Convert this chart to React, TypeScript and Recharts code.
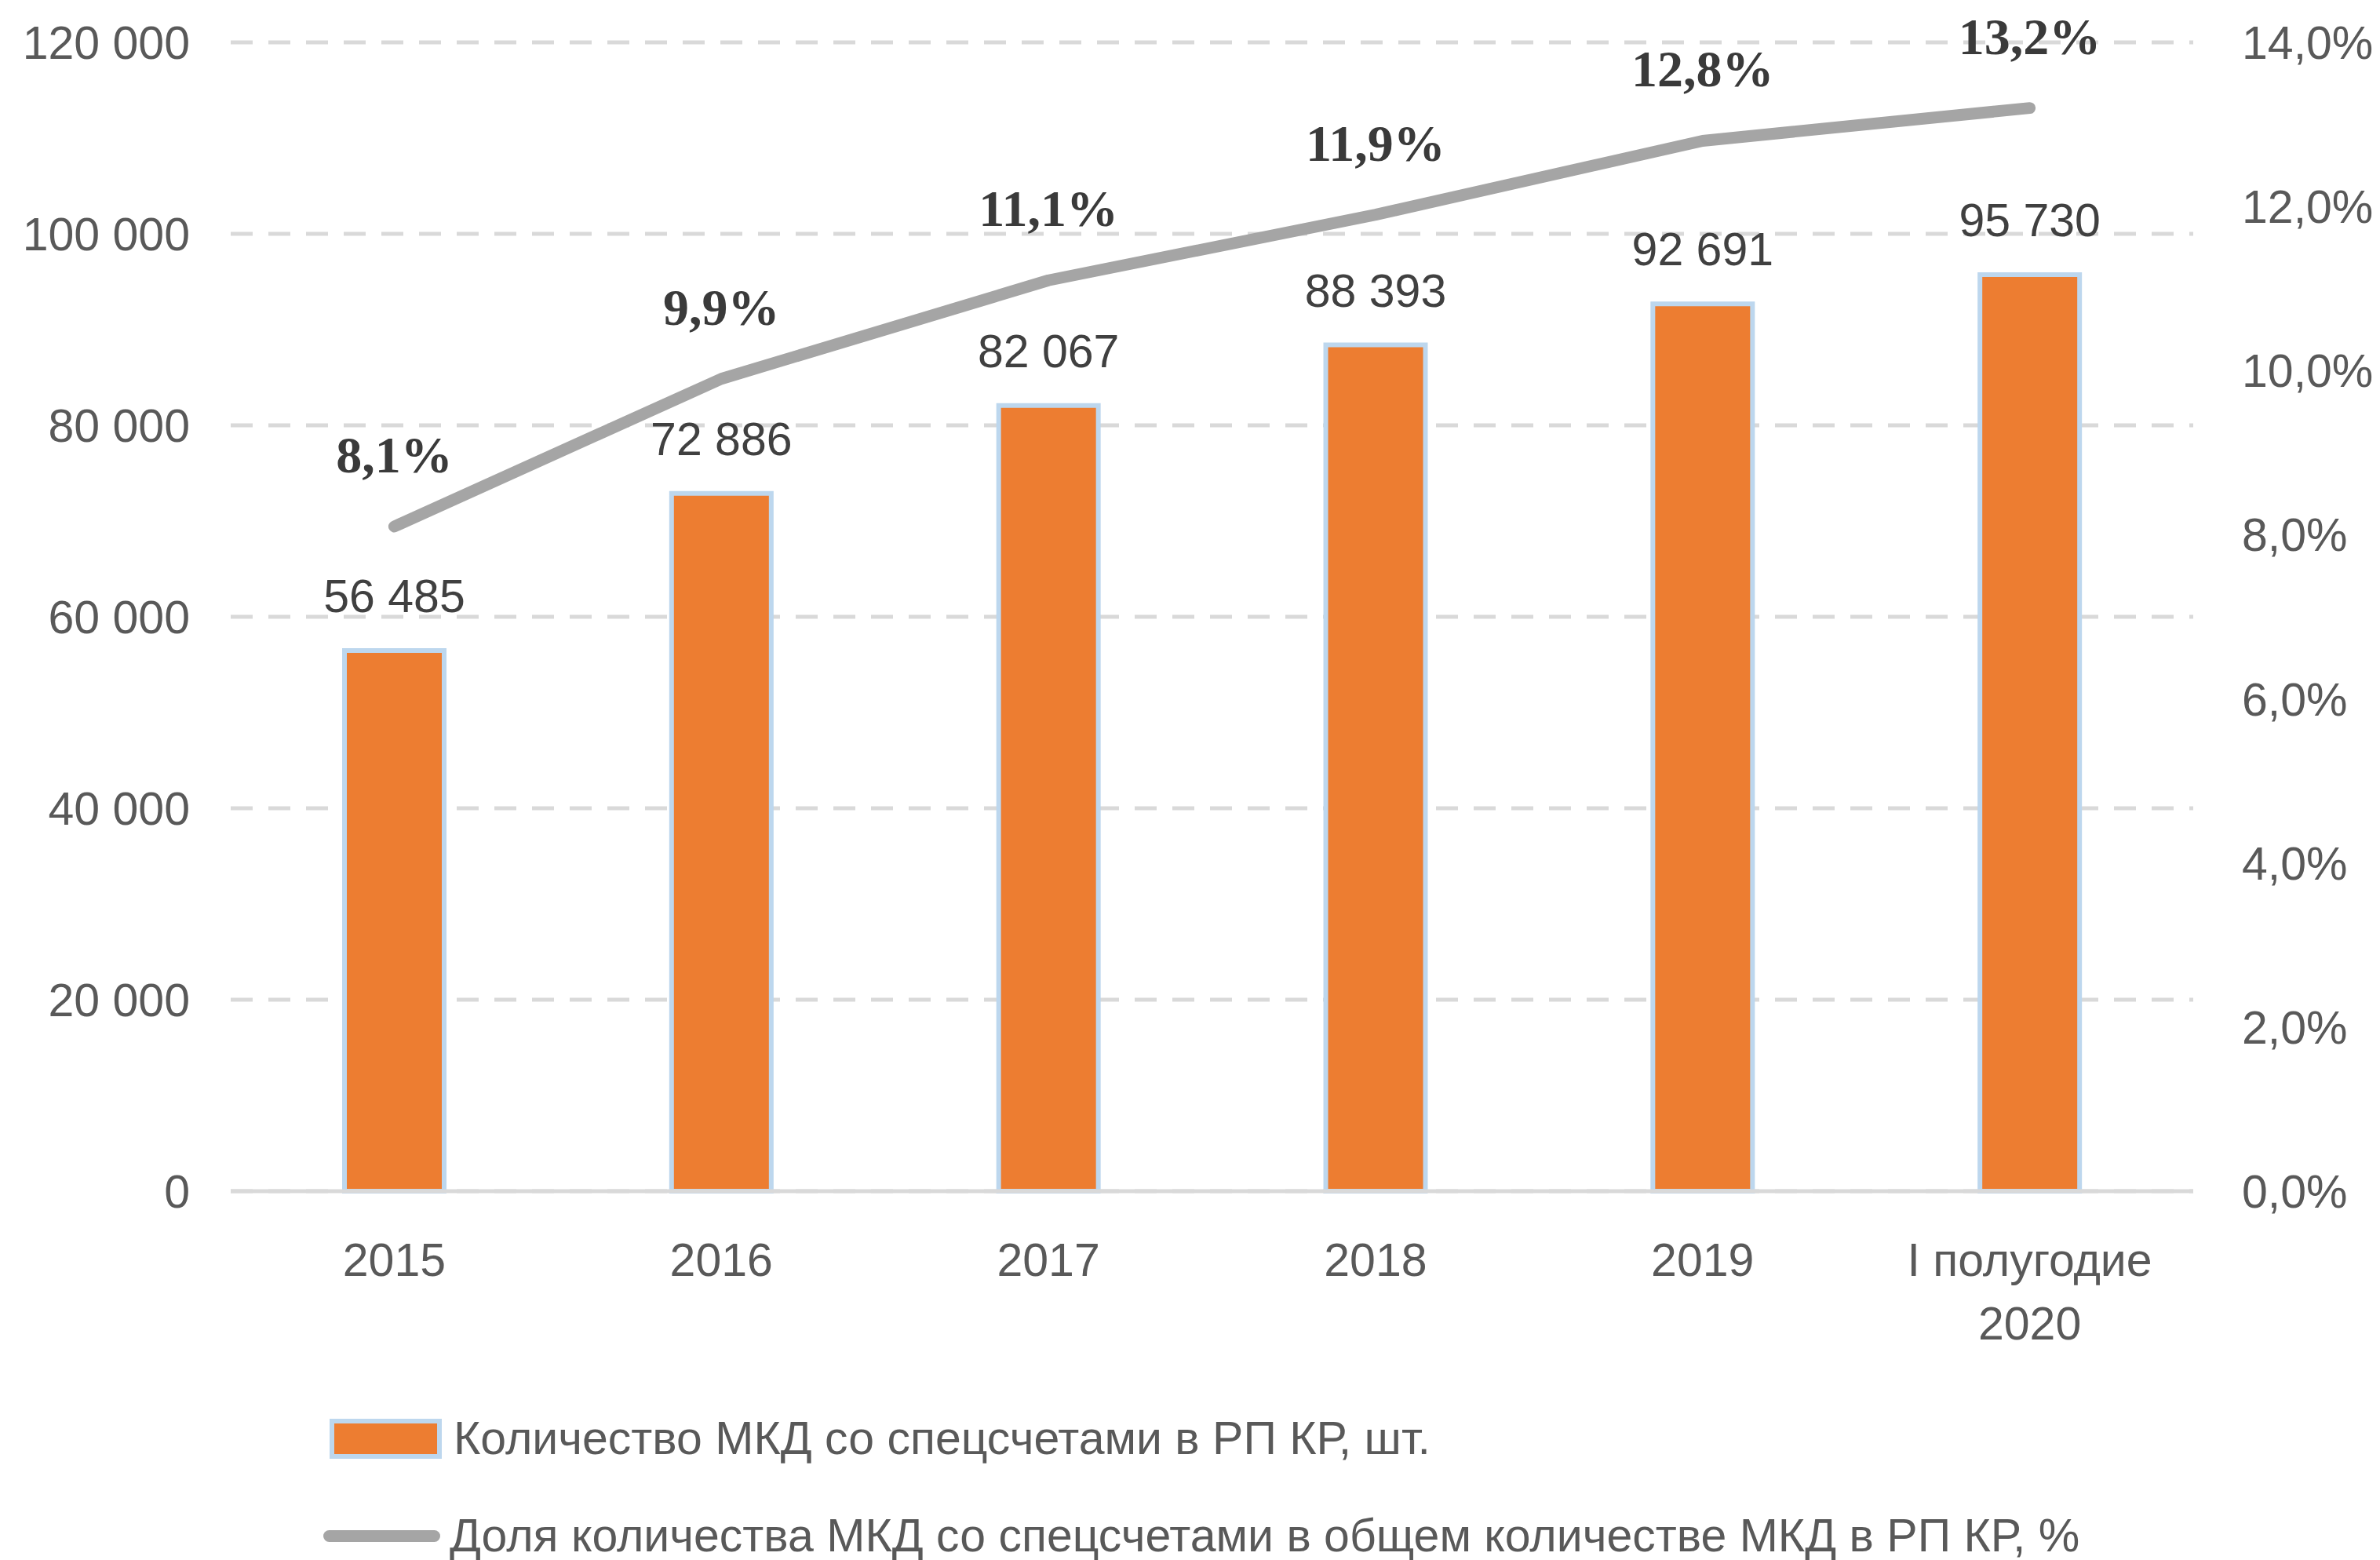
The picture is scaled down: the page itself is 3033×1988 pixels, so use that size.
import React from "react";
import { ComposedChart, Bar, Line, XAxis, YAxis, CartesianGrid, LabelList, Legend } from "recharts";

const categories = ["2015", "2016", "2017", "2018", "2019", "I полугодие\n2020"];
const houseCounts = [56485, 72886, 82067, 88393, 92691, 95730];
const sharePercent = [8.1, 9.9, 11.1, 11.9, 12.8, 13.2];
const leftTicks = [0, 20000, 40000, 60000, 80000, 100000, 120000];
const rightTicks = [0, 2, 4, 6, 8, 10, 12, 14];

const barName = "Количество МКД со спецсчетами в РП КР, шт.";
const lineName = "Доля количества МКД со спецсчетами в общем количестве МКД в РП КР, %";

const data = categories.map((c, i) => ({ cat: c, count: houseCounts[i], share: sharePercent[i] }));

const FONT = '"Liberation Sans", Arial, sans-serif';
const FS = 59;
const ORANGE = "#ED7D31";
const BORDER = "#BDD7EE";
const GREY_LINE = "#A5A5A5";

const fmtThousands = (v: number) => String(v).replace(/\B(?=(\d{3})+(?!\d))/g, " ");
const fmtPct = (v: number) => v.toFixed(1).replace(".", ",") + "%";

function CategoryTick(props: any) {
  const { x, y, payload } = props;
  const lines = String(payload.value).split("\n");
  return (
    <text x={x} y={y} textAnchor="middle" fill="#595959" fontSize={FS} fontFamily={FONT}>
      {lines.map((ln, i) => (
        <tspan key={i} x={x} dy={i === 0 ? 108 : 81}>{ln}</tspan>
      ))}
    </text>
  );
}

function LegendBlock() {
  const row: React.CSSProperties = { display: "flex", alignItems: "center", height: 80, marginBottom: 44 };
  const text: React.CSSProperties = { fontFamily: FONT, fontSize: FS, color: "#595959", marginLeft: 12, whiteSpace: "nowrap" };
  return (
    <div style={{ paddingLeft: 412 }}>
      <div style={row}>
        <div style={{ width: 131, height: 39, background: ORANGE, border: `6px solid ${BORDER}`, marginLeft: 8 }} />
        <span style={{ ...text, marginLeft: 15 }}>{barName}</span>
      </div>
      <div style={row}>
        <div style={{ width: 149, height: 15, background: GREY_LINE, borderRadius: 8 }} />
        <span style={text}>{lineName}</span>
      </div>
    </div>
  );
}

export default function App() {
  return (
    <div style={{ position: "absolute", left: 0, top: 0, width: 3033, height: 1988, background: "#fff" }}>
      <ComposedChart
        width={3033}
        height={1988}
        data={data}
        margin={{ top: 54, right: 0, bottom: 270, left: 0 }}
      >
        <CartesianGrid vertical={false} stroke="#D9D9D9" strokeWidth={5} strokeDasharray="28 20" />
        <XAxis
          dataKey="cat"
          height={200}
          tickLine={false}
          axisLine={{ stroke: "#D9D9D9", strokeWidth: 5 }}
          tickSize={0}
          tickMargin={0}
          interval={0}
          tick={<CategoryTick />}
        />
        <YAxis
          width={294}
          domain={[0, 120000]}
          ticks={leftTicks}
          tickFormatter={fmtThousands}
          axisLine={false}
          tickLine={false}
          tickSize={0}
          tickMargin={52}
          tick={{ fill: "#595959", fontSize: FS, fontFamily: FONT }}
        />
        <YAxis
          yAxisId="right"
          orientation="right"
          width={238}
          domain={[0, 14]}
          ticks={rightTicks}
          tickFormatter={fmtPct}
          axisLine={false}
          tickLine={false}
          tickSize={0}
          tickMargin={62}
          tick={{ fill: "#595959", fontSize: FS, fontFamily: FONT, textAnchor: "start" }}
        />
        <Legend
          layout="horizontal"
          verticalAlign="middle"
          align="center"
          wrapperStyle={{ left: 0, top: 1793, width: 3033 }}
          content={() => <LegendBlock />}
        />
        <Bar
          dataKey="count"
          name={barName}
          fill={ORANGE}
          stroke={BORDER}
          strokeWidth={6}
          barSize={127}
          isAnimationActive={false}
        >
          <LabelList
            dataKey="count"
            position="top"
            offset={49}
            formatter={(v: any) => fmtThousands(Number(v))}
            style={{ fill: "#404040", fontSize: FS, fontFamily: FONT }}
          />
        </Bar>
        <Line
          yAxisId="right"
          dataKey="share"
          name={lineName}
          type="linear"
          stroke={GREY_LINE}
          strokeWidth={15}
          strokeLinecap="round"
          strokeLinejoin="round"
          dot={false}
          activeDot={false}
          isAnimationActive={false}
        >
          <LabelList
            dataKey="share"
            position="top"
            offset={69}
            formatter={(v: any) => fmtPct(Number(v))}
            style={{ fill: "#3A3A3A", fontSize: 66, fontWeight: 700, fontFamily: '"Liberation Serif", "Times New Roman", serif' }}
          />
        </Line>
      </ComposedChart>
    </div>
  );
}
